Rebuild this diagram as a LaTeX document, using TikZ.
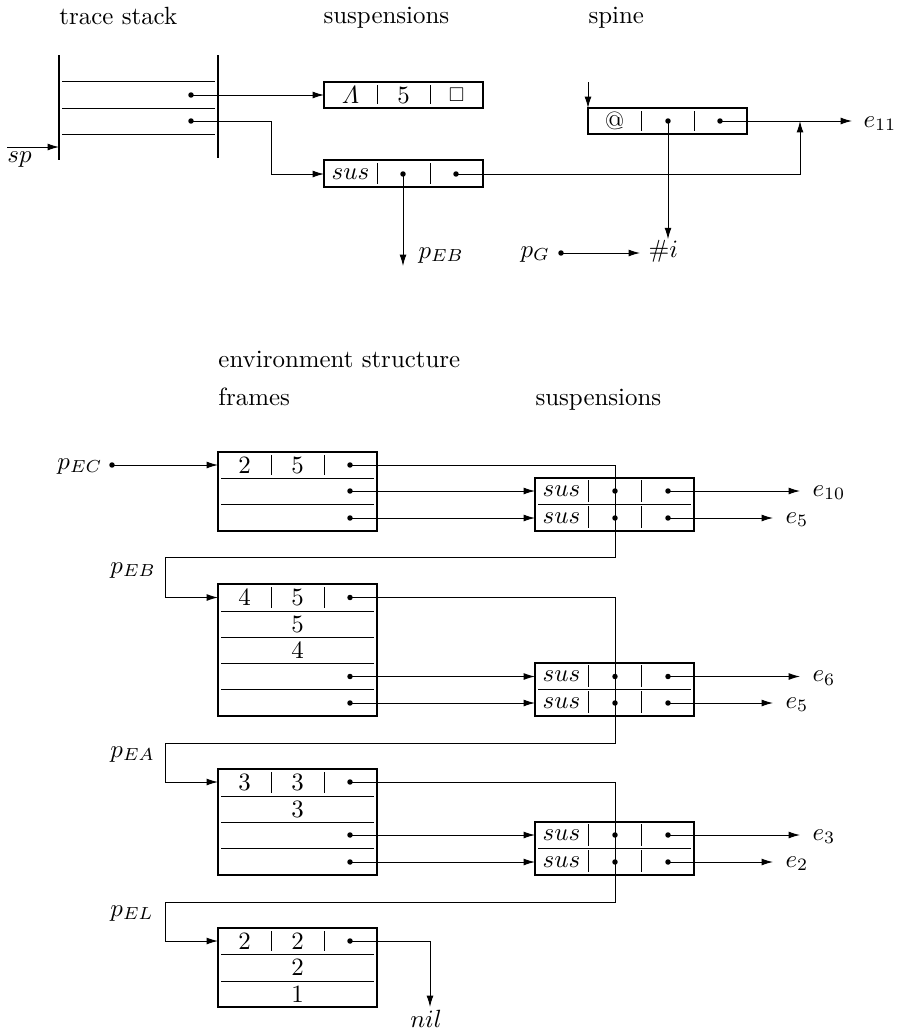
\documentclass[tikz,border=0pt]{standalone}
\usepackage{amsmath,amssymb}
\usetikzlibrary{arrows.meta,fit}
\begin{document}
\begin{tikzpicture}[x=0.4016pt,y=-0.4016pt,
  box/.style={draw,line width=0.75pt,inner sep=0pt,outer sep=0pt},
  stk/.style={line width=0.8pt},
  ln/.style={line width=0.4pt},
  arr/.style={line width=0.4pt,-{Latex[length=4.6pt,width=2.8pt]}},
  dotn/.style={circle,fill,inner sep=0pt,minimum size=2.2pt},
  txt/.style={inner sep=0pt},
  ttl/.style={inner sep=0pt,anchor=base west}]
\useasboundingbox (0,0) rectangle (900,1033);

% ---------- titles (top) ----------
\node[ttl] (tTS) at (59,24) {trace stack};
\node[ttl] (tSU) at (323,23) {suspensions};
\node[ttl] (tSP) at (588,23) {spine};

% ---------- trace stack ----------
\draw[stk] (59,55) -- (59,160);
\draw[stk] (218,55) -- (218,158);
\foreach \yy in {81,108,134} \draw[ln] (62,\yy) -- (215,\yy);
\node[dotn] (ts1) at (191,95) {};
\node[dotn] (ts2) at (191,121) {};
\coordinate (spS) at (7,147);
\coordinate (spE) at (59,147);
\draw[arr] (spS) -- (spE);
\node[ttl] (sp) at (7,162) {$sp$};

% ---------- Lambda suspension ----------
\node[box,fit={(324,82)(483,108)}] (lam) {};
\draw[ln] (377,85) -- (377,104);
\draw[ln] (430,85) -- (430,104);
\node[txt] (lamA) at (350.5,95) {$\varLambda$};
\node[txt] (lamB) at (403.5,95) {$5$};
\node[txt] (lamC) at (456.5,95) {\footnotesize$\square$};
\draw[arr] (ts1.center) -- (lam.west |- ts1);

% ---------- sus suspension (top) ----------
\node[box,fit={(324,160)(483,187)}] (sus0) {};
\draw[ln] (377,163) -- (377,184);
\draw[ln] (430,163) -- (430,184);
\node[txt] (sus0t) at (350.5,174) {$sus$};
\node[dotn] (s0d1) at (403,174) {};
\node[dotn] (s0d2) at (456,174) {};
\coordinate (b1) at (271,121);
\draw[arr] (ts2.center) -- (b1) |- (sus0.west |- s0d1);
\coordinate (pebEnd) at (403,266);
\draw[arr] (s0d1.center) -- (pebEnd);
\node[ttl] (pEBt) at (418,258) {$p_{EB}$};

% ---------- spine ----------
\node[box,fit={(588,108)(747,134)}] (spine) {};
\draw[ln] (641,111) -- (641,131);
\draw[ln] (694,111) -- (694,131);
\node[txt] (at) at (614.5,121) {@};
\node[dotn] (sp2) at (668,121) {};
\node[dotn] (sp3) at (720,121) {};
\coordinate (spTop) at (588,82);
\draw[arr] (spTop) -- (spine.north west);
\coordinate (e11end) at (852,121);
\draw[arr] (sp3.center) -- (e11end);
\node[ttl] (e11) at (863,127) {$e_{11}$};
\coordinate (junc) at (800,121);
\draw[arr] (s0d2.center) -| (junc);
\node[ttl] (hashi) at (648,257) {$\#i$};
\draw[arr] (sp2.center) -- (sp2 |- hashi.north);
\node[ttl] (pG) at (520,257) {$p_G$};
\node[dotn] (pGd) at (561,253) {};
\coordinate (pGend) at (640,253);
\draw[arr] (pGd.center) -- (pGend);

% ---------- titles (bottom) ----------
\node[ttl] (tES) at (218,367) {environment structure};
\node[ttl] (tFR) at (218,405) {frames};
\node[ttl] (tSU2) at (535,405) {suspensions};

% ---------- frame 1 ----------
\node[box,fit={(218,452)(377,531)}] (f1) {};
\foreach \yy in {478,504} \draw[ln] (221,\yy) -- (374,\yy);
\draw[ln] (271,455) -- (271,475);
\draw[ln] (324,455) -- (324,475);
\node[txt] (f1t1) at (244.5,465) {$2$};
\node[txt] (f1t2) at (297.5,465) {$5$};
\node[dotn] (f1a) at (350,465) {};
\node[dotn] (f1b) at (350,491) {};
\node[dotn] (f1c) at (350,518) {};

% ---------- frame 2 ----------
\node[box,fit={(218,584)(377,716)}] (f2) {};
\foreach \yy in {611,637,663,689} \draw[ln] (221,\yy) -- (374,\yy);
\draw[ln] (271,587) -- (271,608);
\draw[ln] (324,587) -- (324,608);
\node[txt] (f2t1) at (244.5,597.5) {$4$};
\node[txt] (f2t2) at (297.5,597.5) {$5$};
\node[dotn] (f2a) at (350,597.5) {};
\node[txt] (f2t3) at (297.5,624) {$5$};
\node[txt] (f2t4) at (297.5,650) {$4$};
\node[dotn] (f2b) at (350,676.5) {};
\node[dotn] (f2c) at (350,703) {};

% ---------- frame 3 ----------
\node[box,fit={(218,769)(377,875)}] (f3) {};
\foreach \yy in {796,822,848} \draw[ln] (221,\yy) -- (374,\yy);
\draw[ln] (271,772) -- (271,793);
\draw[ln] (324,772) -- (324,793);
\node[txt] (f3t1) at (244.5,782) {$3$};
\node[txt] (f3t2) at (297.5,782) {$3$};
\node[dotn] (f3a) at (350,782) {};
\node[txt] (f3t3) at (297.5,809) {$3$};
\node[dotn] (f3b) at (350,835) {};
\node[dotn] (f3c) at (350,862) {};

% ---------- frame 4 ----------
\node[box,fit={(218,928)(377,1007)}] (f4) {};
\foreach \yy in {954,981} \draw[ln] (221,\yy) -- (374,\yy);
\draw[ln] (271,931) -- (271,951);
\draw[ln] (324,931) -- (324,951);
\node[txt] (f4t1) at (244.5,941) {$2$};
\node[txt] (f4t2) at (297.5,941) {$2$};
\node[dotn] (f4a) at (350,941) {};
\node[txt] (f4t3) at (297.5,967.5) {$2$};
\node[txt] (f4t4) at (297.5,994) {$1$};

% ---------- suspension boxes ----------
% s1
\node[box,fit={(535,478)(694,531)}] (s1) {};
\draw[ln] (538,504) -- (691,504);
\foreach \yy in {480,506} {\draw[ln] (588,\yy) -- (588,\yy+22); \draw[ln] (641,\yy) -- (641,\yy+22);}
\node[txt] (s1t1) at (561.5,491) {$sus$};
\node[txt] (s1t2) at (561.5,518) {$sus$};
\node[dotn] (s1a1) at (615,491) {};
\node[dotn] (s1a2) at (668,491) {};
\node[dotn] (s1b1) at (615,518) {};
\node[dotn] (s1b2) at (668,518) {};
% s2
\node[box,fit={(535,663)(694,716)}] (s2) {};
\draw[ln] (538,689) -- (691,689);
\foreach \yy in {665,691} {\draw[ln] (588,\yy) -- (588,\yy+22); \draw[ln] (641,\yy) -- (641,\yy+22);}
\node[txt] (s2t1) at (561.5,676.5) {$sus$};
\node[txt] (s2t2) at (561.5,703) {$sus$};
\node[dotn] (s2a1) at (615,676.5) {};
\node[dotn] (s2a2) at (668,676.5) {};
\node[dotn] (s2b1) at (615,703) {};
\node[dotn] (s2b2) at (668,703) {};
% s3
\node[box,fit={(535,822)(694,875)}] (s3) {};
\draw[ln] (538,848) -- (691,848);
\foreach \yy in {824,850} {\draw[ln] (588,\yy) -- (588,\yy+22); \draw[ln] (641,\yy) -- (641,\yy+22);}
\node[txt] (s3t1) at (561.5,835) {$sus$};
\node[txt] (s3t2) at (561.5,862) {$sus$};
\node[dotn] (s3a1) at (615,835) {};
\node[dotn] (s3a2) at (668,835) {};
\node[dotn] (s3b1) at (615,862) {};
\node[dotn] (s3b2) at (668,862) {};

% ---------- frame -> suspension arrows ----------
\draw[arr] (f1b.center) -- (s1.west |- f1b);
\draw[arr] (f1c.center) -- (s1.west |- f1c);
\draw[arr] (f2b.center) -- (s2.west |- f2b);
\draw[arr] (f2c.center) -- (s2.west |- f2c);
\draw[arr] (f3b.center) -- (s3.west |- f3b);
\draw[arr] (f3c.center) -- (s3.west |- f3c);

% ---------- suspension outputs ----------
\coordinate (o1a) at (800,491);  \draw[arr] (s1a2.center) -- (o1a);
\node[ttl] (e10) at (812,496) {$e_{10}$};
\coordinate (o1b) at (773,518);  \draw[arr] (s1b2.center) -- (o1b);
\node[ttl] (e5a) at (785,523) {$e_{5}$};
\coordinate (o2a) at (800,676.5);  \draw[arr] (s2a2.center) -- (o2a);
\node[ttl] (e6) at (812,681.5) {$e_{6}$};
\coordinate (o2b) at (773,703);  \draw[arr] (s2b2.center) -- (o2b);
\node[ttl] (e5b) at (785,708) {$e_{5}$};
\coordinate (o3a) at (800,835);  \draw[arr] (s3a2.center) -- (o3a);
\node[ttl] (e3) at (812,840) {$e_{3}$};
\coordinate (o3b) at (773,862);  \draw[arr] (s3b2.center) -- (o3b);
\node[ttl] (e2) at (785,867) {$e_{2}$};

% ---------- environment pointers ----------
\node[ttl] (pEC) at (57,469) {$p_{EC}$};
\node[dotn] (pECd) at (112,465) {};
\draw[arr] (pECd.center) -- (f1.west |- f1a);

\node[ttl] (pEB) at (110,573) {$p_{EB}$};
\coordinate (L1a) at (615,557);
\coordinate (L1b) at (165,557);
\draw[arr] (f1a.center) -| (L1a) -- (L1b) |- (f2.west |- f2a);

\node[ttl] (pEA) at (110,757) {$p_{EA}$};
\coordinate (L2a) at (615,743);
\coordinate (L2b) at (165,743);
\draw[arr] (f2a.center) -| (L2a) -- (L2b) |- (f3.west |- f3a);

\node[ttl] (pEL) at (110,916) {$p_{EL}$};
\coordinate (L3a) at (615,902);
\coordinate (L3b) at (165,902);
\draw[arr] (f3a.center) -| (L3a) -- (L3b) |- (f4.west |- f4a);

\coordinate (nilEnd) at (430,1007);
\draw[arr] (f4a.center) -| (nilEnd);
\node[txt,anchor=base] (nil) at (426,1027) {$nil$};
\end{tikzpicture}
\end{document}
